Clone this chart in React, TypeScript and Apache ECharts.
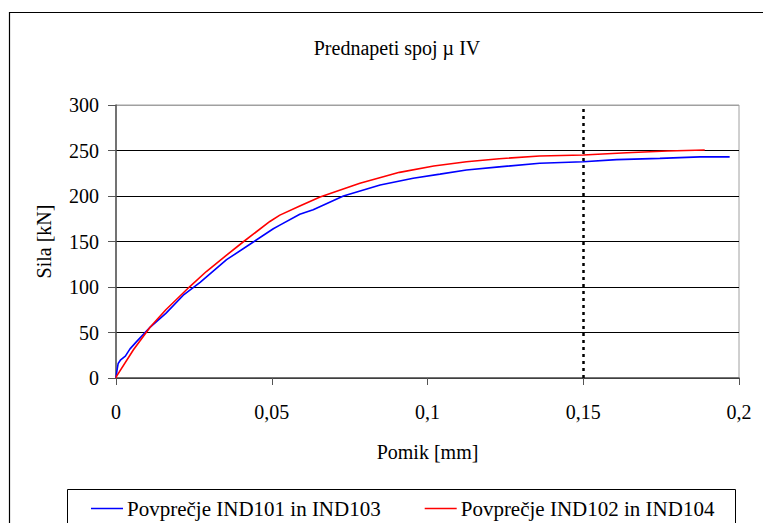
import React, { useEffect, useRef } from "react";
import * as echarts from "echarts";

const TITLE = "Prednapeti spoj µ IV";
const X_NAME = "Pomik [mm]";
const Y_NAME = "Sila [kN]";
const SERIES_NAMES = ["Povprečje IND101 in IND103", "Povprečje IND102 in IND104"];
const X_TICKS = [0, 0.05, 0.1, 0.15, 0.2];
const Y_TICKS = [0, 50, 100, 150, 200, 250, 300];
const LIMIT_X = 0.15;

const blueData: [number, number][] = [
  [0, 0], [0.0003, 8], [0.0007, 16], [0.0015, 20], [0.003, 24], [0.0045, 32],
  [0.0066, 40], [0.011, 56], [0.016, 71], [0.0216, 91], [0.027, 105],
  [0.0355, 130], [0.043, 147], [0.0505, 164], [0.0526, 168], [0.059, 180],
  [0.0633, 185], [0.073, 200], [0.0848, 212], [0.0954, 219.5], [0.104, 224],
  [0.1125, 228.6], [0.123, 232], [0.136, 236], [0.15, 237.7], [0.1607, 240],
  [0.1746, 241.4], [0.1875, 243], [0.197, 243],
];

const redData: [number, number][] = [
  [0, 0], [0.0002, 2], [0.0056, 31], [0.011, 56], [0.016, 75], [0.0237, 100.5],
  [0.029, 117], [0.0355, 135], [0.041, 150], [0.0494, 172], [0.0526, 179],
  [0.059, 189], [0.0655, 199], [0.0783, 214], [0.091, 226], [0.102, 233],
  [0.1125, 237.7], [0.123, 241], [0.136, 244], [0.15, 245], [0.164, 247.6],
  [0.177, 249.5], [0.189, 250.5],
];

const FONT = "Liberation Serif";

export default function App() {
  const ref = useRef<HTMLDivElement>(null);
  useEffect(() => {
    if (!ref.current) return;
    const chart = echarts.init(ref.current, null, { renderer: "svg" });
    const gridColors = Y_TICKS.map((v) => (v === 300 ? "#a0a0a0" : "#000000"));
    chart.setOption({
      animation: false,
      backgroundColor: "#ffffff",
      textStyle: { fontFamily: FONT },
      title: {
        text: TITLE,
        left: 392,
        textAlign: "center",
        top: 33,
        textStyle: { fontFamily: FONT, fontSize: 20, fontWeight: "normal", color: "#000" },
      },
      grid: {
        left: 116,
        right: 24,
        top: 105,
        bottom: 145,
        show: true,
        borderColor: "#a0a0a0",
        borderWidth: 1,
        backgroundColor: "transparent",
      },
      legend: {
        left: 86,
        top: 493,
        icon: "rect",
        itemWidth: 32,
        itemHeight: 1.5,
        itemGap: 44,
        textStyle: { fontFamily: FONT, fontSize: 21, color: "#000", padding: [0, 0, 0, -1] },
        data: SERIES_NAMES,
      },
      xAxis: {
        type: "value",
        min: 0,
        max: 0.2,
        interval: 0.05,
        name: X_NAME,
        nameLocation: "middle",
        nameGap: 64,
        nameTextStyle: { fontFamily: FONT, fontSize: 20, color: "#000" },
        axisLine: { show: true, lineStyle: { color: "#555", width: 1.5 } },
        axisTick: { show: true, length: 7, lineStyle: { color: "#555" } },
        axisLabel: {
          fontFamily: FONT,
          fontSize: 20,
          color: "#000",
          margin: 24,
          formatter: (v: number) => (v === 0 ? "0" : String(Number(v.toFixed(3))).replace(".", ",")),
        },
        splitLine: { show: false },
      },
      yAxis: {
        type: "value",
        min: 0,
        max: 300,
        interval: 50,
        name: Y_NAME,
        nameLocation: "middle",
        nameGap: 62,
        nameTextStyle: { fontFamily: FONT, fontSize: 20, color: "#000" },
        axisLine: { show: true, lineStyle: { color: "#555", width: 1.5 } },
        axisTick: { show: true, length: 8, lineStyle: { color: "#555" } },
        axisLabel: { fontFamily: FONT, fontSize: 20, color: "#000", margin: 17 },
        splitLine: { show: true, lineStyle: { color: gridColors, width: 1 } },
      },
      series: [
        {
          name: SERIES_NAMES[0],
          type: "line",
          data: blueData,
          symbol: "none",
          lineStyle: { color: "#0000ff", width: 1.6 },
          itemStyle: { color: "#0000ff" },
          z: 3,
          markLine: {
            silent: true,
            symbol: "none",
            label: { show: false },
            lineStyle: { color: "#000", type: [3, 4], width: 2.5 },
            data: [{ xAxis: LIMIT_X }],
          },
        },
        {
          name: SERIES_NAMES[1],
          type: "line",
          data: redData,
          symbol: "none",
          lineStyle: { color: "#ff0000", width: 1.6 },
          itemStyle: { color: "#ff0000" },
          z: 4,
        },
      ],
      graphic: [
        {
          type: "rect",
          silent: true,
          shape: { x: 9.5, y: 12.5, width: 800, height: 600 },
          style: { fill: "none", stroke: "#000", lineWidth: 1.2 },
          z: -10,
        },
        {
          type: "rect",
          silent: true,
          shape: { x: 67.5, y: 489.5, width: 668, height: 60 },
          style: { fill: "none", stroke: "#000", lineWidth: 1 },
          z: -10,
        },
      ],
    });
    return () => chart.dispose();
  }, []);
  return (
    <div
      ref={ref}
      style={{ position: "absolute", left: 0, top: 0, width: 763, height: 523 }}
    />
  );
}
